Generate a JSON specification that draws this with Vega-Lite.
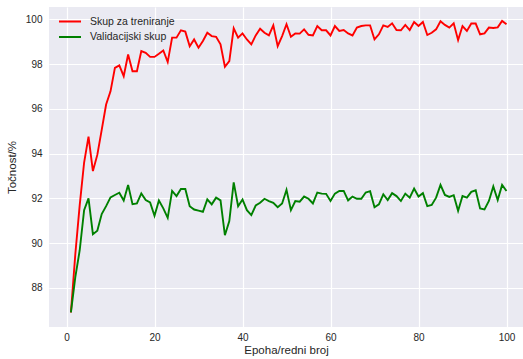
{
  "$schema": "https://vega.github.io/schema/vega-lite/v6.json",
  "width": 474,
  "height": 320,
  "autosize": {"type": "none"},
  "padding": {"left": 49, "top": 7, "right": 0, "bottom": 32},
  "background": "white",
  "config": {
    "view": {"fill": "#EAEAF2", "stroke": null},
    "font": "Liberation Sans",
    "axis": {
      "domain": false,
      "ticks": false,
      "grid": true,
      "gridColor": "white",
      "gridWidth": 1.2,
      "labelFont": "Liberation Sans",
      "labelFontSize": 10,
      "labelColor": "#262626",
      "titleFont": "Liberation Sans",
      "titleFontSize": 11.5,
      "titleFontWeight": "normal",
      "titleColor": "#262626"
    },
    "legend": {
      "labelFont": "Liberation Sans",
      "labelFontSize": 10.5,
      "labelColor": "#262626"
    }
  },
  "data": {
    "values": [
      {"epoha":1,"Skup za treniranje":86.9,"Validacijski skup":86.9},
      {"epoha":2,"Skup za treniranje":89.5,"Validacijski skup":88.48},
      {"epoha":3,"Skup za treniranje":91.7,"Validacijski skup":89.68},
      {"epoha":4,"Skup za treniranje":93.6,"Validacijski skup":91.47},
      {"epoha":5,"Skup za treniranje":94.76,"Validacijski skup":92.0},
      {"epoha":6,"Skup za treniranje":93.22,"Validacijski skup":90.4},
      {"epoha":7,"Skup za treniranje":93.94,"Validacijski skup":90.55},
      {"epoha":8,"Skup za treniranje":95.06,"Validacijski skup":91.3},
      {"epoha":9,"Skup za treniranje":96.19,"Validacijski skup":91.65},
      {"epoha":10,"Skup za treniranje":96.78,"Validacijski skup":92.04},
      {"epoha":11,"Skup za treniranje":97.83,"Validacijski skup":92.15},
      {"epoha":12,"Skup za treniranje":97.94,"Validacijski skup":92.25},
      {"epoha":13,"Skup za treniranje":97.46,"Validacijski skup":91.9},
      {"epoha":14,"Skup za treniranje":98.43,"Validacijski skup":92.6},
      {"epoha":15,"Skup za treniranje":97.68,"Validacijski skup":91.74},
      {"epoha":16,"Skup za treniranje":97.68,"Validacijski skup":91.77},
      {"epoha":17,"Skup za treniranje":98.58,"Validacijski skup":92.22},
      {"epoha":18,"Skup za treniranje":98.5,"Validacijski skup":91.92},
      {"epoha":19,"Skup za treniranje":98.32,"Validacijski skup":91.82},
      {"epoha":20,"Skup za treniranje":98.32,"Validacijski skup":91.22},
      {"epoha":21,"Skup za treniranje":98.46,"Validacijski skup":91.9},
      {"epoha":22,"Skup za treniranje":98.61,"Validacijski skup":91.55},
      {"epoha":23,"Skup za treniranje":98.09,"Validacijski skup":91.13},
      {"epoha":24,"Skup za treniranje":99.18,"Validacijski skup":92.33},
      {"epoha":25,"Skup za treniranje":99.18,"Validacijski skup":92.1},
      {"epoha":26,"Skup za treniranje":99.51,"Validacijski skup":92.42},
      {"epoha":27,"Skup za treniranje":99.45,"Validacijski skup":92.42},
      {"epoha":28,"Skup za treniranje":98.8,"Validacijski skup":91.65},
      {"epoha":29,"Skup za treniranje":99.1,"Validacijski skup":91.5},
      {"epoha":30,"Skup za treniranje":98.73,"Validacijski skup":91.45},
      {"epoha":31,"Skup za treniranje":99.03,"Validacijski skup":91.4},
      {"epoha":32,"Skup za treniranje":99.4,"Validacijski skup":91.95},
      {"epoha":33,"Skup za treniranje":99.25,"Validacijski skup":91.73},
      {"epoha":34,"Skup za treniranje":99.22,"Validacijski skup":92.03},
      {"epoha":35,"Skup za treniranje":98.88,"Validacijski skup":91.91},
      {"epoha":36,"Skup za treniranje":97.88,"Validacijski skup":90.35},
      {"epoha":37,"Skup za treniranje":98.13,"Validacijski skup":90.98},
      {"epoha":38,"Skup za treniranje":99.6,"Validacijski skup":92.71},
      {"epoha":39,"Skup za treniranje":99.18,"Validacijski skup":91.65},
      {"epoha":40,"Skup za treniranje":99.37,"Validacijski skup":91.95},
      {"epoha":41,"Skup za treniranje":99.1,"Validacijski skup":91.47},
      {"epoha":42,"Skup za treniranje":98.88,"Validacijski skup":91.25},
      {"epoha":43,"Skup za treniranje":99.28,"Validacijski skup":91.68},
      {"epoha":44,"Skup za treniranje":99.58,"Validacijski skup":91.8},
      {"epoha":45,"Skup za treniranje":99.4,"Validacijski skup":91.98},
      {"epoha":46,"Skup za treniranje":99.28,"Validacijski skup":91.88},
      {"epoha":47,"Skup za treniranje":99.73,"Validacijski skup":91.8},
      {"epoha":48,"Skup za treniranje":98.8,"Validacijski skup":91.6},
      {"epoha":49,"Skup za treniranje":99.25,"Validacijski skup":91.77},
      {"epoha":50,"Skup za treniranje":99.78,"Validacijski skup":92.38},
      {"epoha":51,"Skup za treniranje":99.22,"Validacijski skup":91.47},
      {"epoha":52,"Skup za treniranje":99.37,"Validacijski skup":91.88},
      {"epoha":53,"Skup za treniranje":99.36,"Validacijski skup":91.85},
      {"epoha":54,"Skup za treniranje":99.55,"Validacijski skup":92.08},
      {"epoha":55,"Skup za treniranje":99.31,"Validacijski skup":91.98},
      {"epoha":56,"Skup za treniranje":99.28,"Validacijski skup":91.77},
      {"epoha":57,"Skup za treniranje":99.7,"Validacijski skup":92.26},
      {"epoha":58,"Skup za treniranje":99.51,"Validacijski skup":92.21},
      {"epoha":59,"Skup za treniranje":99.51,"Validacijski skup":92.2},
      {"epoha":60,"Skup za treniranje":99.28,"Validacijski skup":91.88},
      {"epoha":61,"Skup za treniranje":99.7,"Validacijski skup":92.21},
      {"epoha":62,"Skup za treniranje":99.48,"Validacijski skup":92.33},
      {"epoha":63,"Skup za treniranje":99.52,"Validacijski skup":92.33},
      {"epoha":64,"Skup za treniranje":99.37,"Validacijski skup":91.91},
      {"epoha":65,"Skup za treniranje":99.28,"Validacijski skup":92.08},
      {"epoha":66,"Skup za treniranje":99.63,"Validacijski skup":91.98},
      {"epoha":67,"Skup za treniranje":99.7,"Validacijski skup":91.98},
      {"epoha":68,"Skup za treniranje":99.73,"Validacijski skup":92.26},
      {"epoha":69,"Skup za treniranje":99.73,"Validacijski skup":92.32},
      {"epoha":70,"Skup za treniranje":99.1,"Validacijski skup":91.6},
      {"epoha":71,"Skup za treniranje":99.33,"Validacijski skup":91.73},
      {"epoha":72,"Skup za treniranje":99.73,"Validacijski skup":92.18},
      {"epoha":73,"Skup za treniranje":99.66,"Validacijski skup":91.92},
      {"epoha":74,"Skup za treniranje":99.82,"Validacijski skup":92.23},
      {"epoha":75,"Skup za treniranje":99.52,"Validacijski skup":92.1},
      {"epoha":76,"Skup za treniranje":99.51,"Validacijski skup":91.88},
      {"epoha":77,"Skup za treniranje":99.75,"Validacijski skup":92.21},
      {"epoha":78,"Skup za treniranje":99.52,"Validacijski skup":92.03},
      {"epoha":79,"Skup za treniranje":99.88,"Validacijski skup":92.44},
      {"epoha":80,"Skup za treniranje":99.7,"Validacijski skup":92.08},
      {"epoha":81,"Skup za treniranje":99.88,"Validacijski skup":92.23},
      {"epoha":82,"Skup za treniranje":99.3,"Validacijski skup":91.65},
      {"epoha":83,"Skup za treniranje":99.4,"Validacijski skup":91.7},
      {"epoha":84,"Skup za treniranje":99.55,"Validacijski skup":92.03},
      {"epoha":85,"Skup za treniranje":99.91,"Validacijski skup":92.6},
      {"epoha":86,"Skup za treniranje":99.75,"Validacijski skup":92.15},
      {"epoha":87,"Skup za treniranje":99.63,"Validacijski skup":92.06},
      {"epoha":88,"Skup za treniranje":99.82,"Validacijski skup":92.14},
      {"epoha":89,"Skup za treniranje":99.07,"Validacijski skup":91.44},
      {"epoha":90,"Skup za treniranje":99.7,"Validacijski skup":92.1},
      {"epoha":91,"Skup za treniranje":99.48,"Validacijski skup":92.03},
      {"epoha":92,"Skup za treniranje":99.81,"Validacijski skup":92.29},
      {"epoha":93,"Skup za treniranje":99.81,"Validacijski skup":92.36},
      {"epoha":94,"Skup za treniranje":99.33,"Validacijski skup":91.55},
      {"epoha":95,"Skup za treniranje":99.37,"Validacijski skup":91.5},
      {"epoha":96,"Skup za treniranje":99.63,"Validacijski skup":91.88},
      {"epoha":97,"Skup za treniranje":99.61,"Validacijski skup":92.53},
      {"epoha":98,"Skup za treniranje":99.64,"Validacijski skup":91.92},
      {"epoha":99,"Skup za treniranje":99.93,"Validacijski skup":92.6},
      {"epoha":100,"Skup za treniranje":99.78,"Validacijski skup":92.33}
    ]
  },
  "transform": [
    {"fold": ["Skup za treniranje", "Validacijski skup"], "as": ["skup", "tocnost"]}
  ],
  "mark": {"type": "line", "strokeWidth": 1.9},
  "encoding": {
    "x": {
      "field": "epoha",
      "type": "quantitative",
      "scale": {"domain": [-3.98, 103.75], "nice": false, "zero": false},
      "axis": {"values": [0, 20, 40, 60, 80, 100], "title": "Epoha/redni broj", "labelPadding": 5, "titlePadding": 2}
    },
    "y": {
      "field": "tocnost",
      "type": "quantitative",
      "scale": {"domain": [86.25, 100.55], "nice": false, "zero": false},
      "axis": {"values": [88, 90, 92, 94, 96, 98, 100], "title": "Točnost/%", "labelPadding": 7, "titlePadding": 8}
    },
    "color": {
      "field": "skup",
      "type": "nominal",
      "scale": {"domain": ["Skup za treniranje", "Validacijski skup"], "range": ["#FF0000", "#008000"]},
      "legend": {
        "title": null,
        "orient": "none",
        "legendX": 9,
        "legendY": 8,
        "padding": 0,
        "symbolType": "stroke",
        "symbolSize": 484,
        "symbolStrokeWidth": 2,
        "clipHeight": 13,
        "rowPadding": 2.5,
        "labelOffset": 8
      }
    }
  }
}
